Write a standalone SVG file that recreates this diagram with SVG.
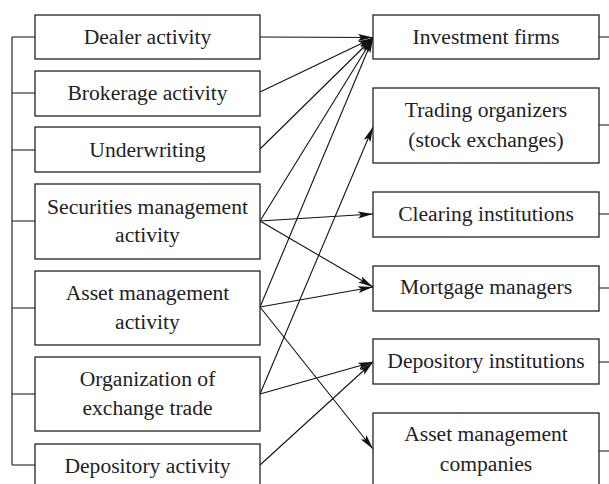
<svg xmlns="http://www.w3.org/2000/svg" width="609" height="484" viewBox="0 0 609 484">
<style>
.box{fill:#fff;stroke:#222;stroke-width:1.3}
.t{font-family:"Liberation Serif","Times New Roman",serif;font-size:21.6px;fill:#222;text-anchor:middle}
.ln{stroke:#111;stroke-width:1.1;fill:none}
.arr{stroke:#111;stroke-width:1.1;fill:none;marker-end:url(#ah)}
</style>
<defs>
<marker id="ah" markerUnits="userSpaceOnUse" markerWidth="16" markerHeight="8" refX="15" refY="3.5" orient="auto">
<path d="M0,0 L15,3.5 L0,7 L3,3.5 z" fill="#111"/>
</marker>
</defs>
<rect width="609" height="484" fill="#fff"/>
<g id="connectors">
<path class="ln" d="M12,37 V465 M12,37 H35 M12,93 H35 M12,150 H35 M12,221 H35 M12,308 H35 M12,394 H35 M12,465 H35"/>
<path class="ln" d="M599,37 H609 M599,125 H609 M599,214 H609 M599,288 H609 M599,362 H609 M599,451 H609"/>
<line class="arr" x1="260" y1="37" x2="373" y2="37.5"/>
<line class="arr" x1="260" y1="92" x2="373" y2="38"/>
<line class="arr" x1="260" y1="149" x2="373" y2="38"/>
<line class="arr" x1="260" y1="221" x2="373" y2="38"/>
<line class="arr" x1="260" y1="307" x2="373" y2="38"/>
<line class="arr" x1="260" y1="221" x2="373" y2="214"/>
<line class="arr" x1="260" y1="221" x2="373" y2="287"/>
<line class="arr" x1="260" y1="307" x2="373" y2="287"/>
<line class="arr" x1="260" y1="307" x2="373" y2="449"/>
<line class="arr" x1="260" y1="394" x2="373" y2="127"/>
<line class="arr" x1="260" y1="394" x2="373" y2="362"/>
<line class="arr" x1="260" y1="465" x2="373" y2="362"/>
</g>
<g id="dealer"><rect class="box" x="35" y="15" width="225" height="44"/><text class="t" x="147.5" y="44">Dealer activity</text></g>
<g id="brokerage"><rect class="box" x="35" y="71" width="225" height="45"/><text class="t" x="147.5" y="100">Brokerage activity</text></g>
<g id="underwriting"><rect class="box" x="35" y="127" width="225" height="45"/><text class="t" x="147.5" y="157">Underwriting</text></g>
<g id="securities"><rect class="box" x="35" y="184" width="225" height="75"/><text class="t" x="147.5" y="214">Securities management</text><text class="t" x="147.5" y="242">activity</text></g>
<g id="assetmgmt"><rect class="box" x="35" y="271" width="225" height="74"/><text class="t" x="147.5" y="300">Asset management</text><text class="t" x="147.5" y="329">activity</text></g>
<g id="organization"><rect class="box" x="35" y="357" width="225" height="74"/><text class="t" x="147.5" y="386">Organization of</text><text class="t" x="147.5" y="415">exchange trade</text></g>
<g id="depositoryact"><rect class="box" x="35" y="444" width="225" height="46"/><text class="t" x="147.5" y="473">Depository activity</text></g>
<g id="investment"><rect class="box" x="373" y="15" width="226" height="44"/><text class="t" x="486" y="44">Investment firms</text></g>
<g id="trading"><rect class="box" x="373" y="88" width="226" height="75"/><text class="t" x="486" y="117">Trading organizers</text><text class="t" x="486" y="147">(stock exchanges)</text></g>
<g id="clearing"><rect class="box" x="373" y="192" width="226" height="45"/><text class="t" x="486" y="221">Clearing institutions</text></g>
<g id="mortgage"><rect class="box" x="373" y="266" width="226" height="45"/><text class="t" x="486" y="294">Mortgage managers</text></g>
<g id="depositoryinst"><rect class="box" x="373" y="339" width="226" height="45"/><text class="t" x="486" y="368">Depository institutions</text></g>
<g id="amc"><rect class="box" x="373" y="413" width="226" height="80"/><text class="t" x="486" y="441">Asset management</text><text class="t" x="486" y="471">companies</text></g>
</svg>
